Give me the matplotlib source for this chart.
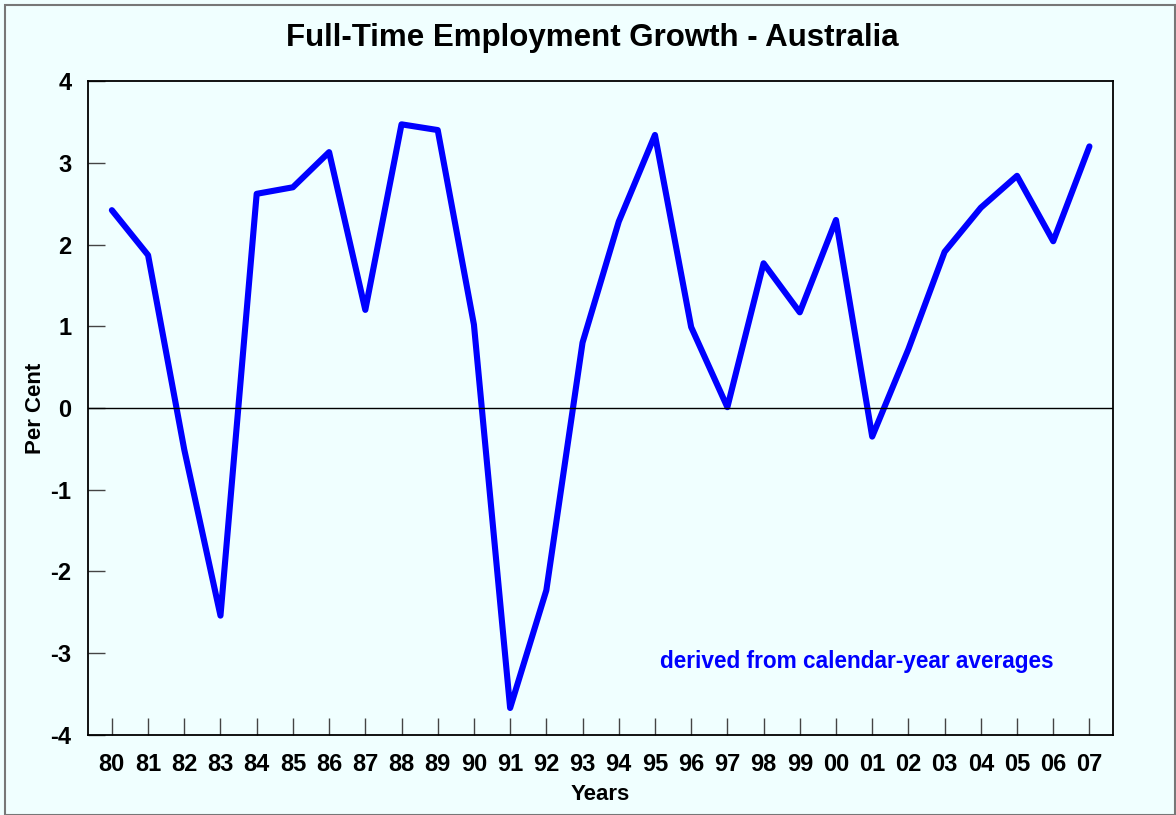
import matplotlib
matplotlib.use("Agg")
import matplotlib.pyplot as plt
from matplotlib.patches import Rectangle

years = ["80", "81", "82", "83", "84", "85", "86", "87", "88", "89", "90", "91", "92", "93",
         "94", "95", "96", "97", "98", "99", "00", "01", "02", "03", "04", "05", "06", "07"]
growth = [2.42, 1.87, -0.51, -2.54, 2.62, 2.70, 3.13, 1.20, 3.47, 3.40, 1.02, -3.67, -2.23, 0.80,
          2.28, 3.34, 0.99, 0.01, 1.77, 1.17, 2.30, -0.35, 0.72, 1.91, 2.45, 2.84, 2.04, 3.20]
yticks = [-4, -3, -2, -1, 0, 1, 2, 3, 4]

bg = "#F0FFFF"
plt.rcParams['font.family'] = ['Liberation Sans', 'DejaVu Sans']

fig = plt.figure(figsize=(11.76, 8.15), dpi=100, facecolor=bg)
fig.patches.append(Rectangle((0.004, 0.0), 0.995, 0.994, transform=fig.transFigure,
                             fill=False, edgecolor="#777777", linewidth=1.5))
ax = fig.add_axes([0.0748, 0.0982, 0.8716, 0.8024], facecolor=bg)

x = list(range(len(years)))
ax.plot(x, growth, color="#0000FF", linewidth=4.4, solid_joinstyle="round", solid_capstyle="round")
ax.axhline(0, color="black", linewidth=1.0)

ax.set_xlim(-0.66, 27.65)
ax.set_ylim(-4, 4)
ax.set_xticks(x)
ax.set_xticklabels(years, fontsize=17, fontweight="bold")
ax.set_yticks(yticks)
ax.set_yticklabels([str(v) for v in yticks], fontsize=17, fontweight="bold")
ax.tick_params(axis="x", direction="in", length=12, width=1.0, color="#444444", pad=13)
ax.tick_params(axis="y", direction="in", length=12, width=1.0, color="#444444", pad=12)
for s in ax.spines.values():
    s.set_linewidth(1.3)
    s.set_color("black")

ax.set_xlabel("Years", fontsize=16, fontweight="bold", labelpad=6)
ax.set_ylabel("Per Cent", fontsize=16, fontweight="bold", labelpad=3)
ax.set_title("Full-Time Employment Growth - Australia", fontsize=22.5, fontweight="bold", pad=25,
             x=0.492)
ax.text(0.942, 0.113, "derived from calendar-year averages", transform=ax.transAxes,
        ha="right", va="center", fontsize=16.3, fontweight="bold", color="#0000FF")

fig.savefig("out.png", dpi=100, facecolor=bg)
